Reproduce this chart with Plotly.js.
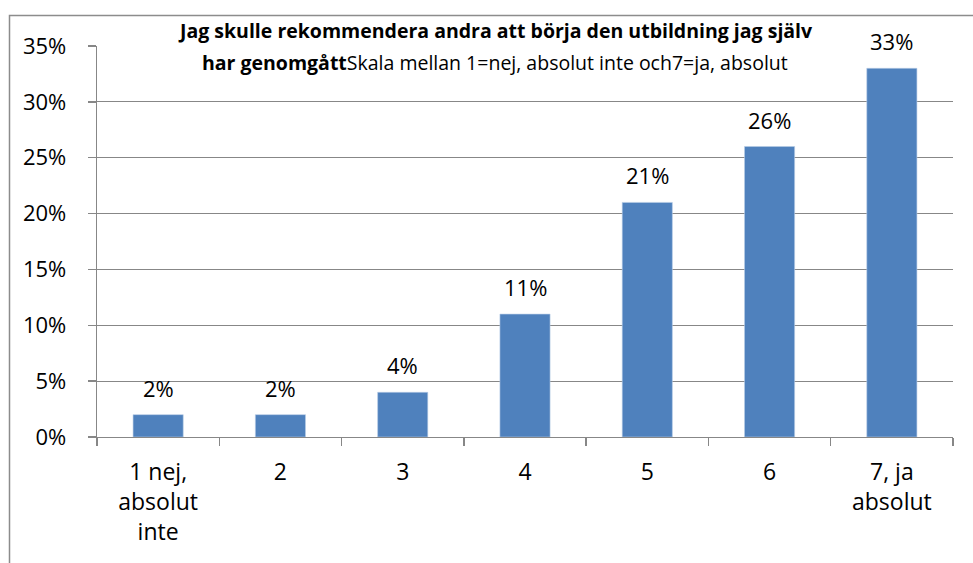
<!DOCTYPE html>
<html>
<head>
<meta charset="utf-8">
<script src="https://cdn.plot.ly/plotly-3.0.1.min.js"></script>
<style>html,body{margin:0;padding:0;background:#fff;}#chart{width:973px;height:563px;}</style>
</head>
<body>
<div id="chart"></div>
<script>
const categories = ['1 nej,<br>absolut<br>inte', '2', '3', '4', '5', '6', '7, ja<br>absolut'];
const values = [0.02, 0.02, 0.04, 0.11, 0.21, 0.26, 0.33];
const valueLabels = ['2%', '2%', '4%', '11%', '21%', '26%', '33%'];
const yTickVals = [0, 0.05, 0.10, 0.15, 0.20, 0.25, 0.30, 0.35];
const yTickText = ['0%', '5%', '10%', '15%', '20%', '25%', '30%', '35%'];
const titleLine1 = '<b>Jag skulle rekommendera andra att börja den utbildning jag själv</b>';
const titleLine2 = '<b>har genomgått</b>Skala mellan 1=nej, absolut inte och7=ja, absolut';

const FONT = 'Open Sans, Liberation Sans, sans-serif';
const gray = '#878787';

const trace = {
  type: 'bar',
  x: categories,
  y: values,
  marker: {color: '#4F81BD', line: {color: '#B9CDE5', width: 0.6}},
  hoverinfo: 'none'
};

const annotations = categories.map((c, i) => ({
  x: i, y: values[i], xref: 'x', yref: 'y',
  text: valueLabels[i], showarrow: false,
  yanchor: 'middle', yshift: 27,
  font: {family: FONT, size: 22, color: '#000'}
}));
annotations.push({
  xref: 'paper', yref: 'paper', x: (495 - 97) / 856, y: (437 - 31) / 391,
  xanchor: 'center', yanchor: 'middle', showarrow: false,
  text: titleLine1, font: {family: FONT, size: 19.5, color: '#000'}
});
annotations.push({
  xref: 'paper', yref: 'paper', x: (495 - 97) / 856, y: (437 - 62) / 391,
  xanchor: 'center', yanchor: 'middle', showarrow: false,
  text: titleLine2, font: {family: FONT, size: 19.5, color: '#000'}
});

const layout = {
  width: 973, height: 563,
  margin: {l: 97, r: 20, t: 46, b: 126, pad: 0},
  paper_bgcolor: '#fff', plot_bgcolor: '#fff',
  showlegend: false,
  bargap: 0.59,
  font: {family: FONT, size: 22, color: '#000'},
  xaxis: {
    type: 'category',
    showgrid: false,
    showline: true, linecolor: gray, linewidth: 1.3,
    ticks: 'outside', ticklen: 8, tickcolor: gray, tickwidth: 1.3,
    tickson: 'boundaries',
    tickfont: {family: FONT, size: 23, color: '#000'},
    ticklabelstandoff: 14,
    zeroline: false
  },
  yaxis: {
    range: [0, 0.35],
    tickvals: yTickVals, ticktext: yTickText,
    showgrid: true, gridcolor: gray, gridwidth: 1.1,
    showline: true, linecolor: gray, linewidth: 1.3,
    ticks: 'outside', ticklen: 8, tickcolor: gray, tickwidth: 1.3,
    tickfont: {family: FONT, size: 22, color: '#000'},
    ticklabelstandoff: 17,
    zeroline: false
  },
  annotations: annotations,
  shapes: [{
    type: 'rect', xref: 'paper', yref: 'paper',
    x0: (9.5 - 97) / 856, x1: (985 - 97) / 856,
    y0: (437 - 580) / 391, y1: (437 - 15.5) / 391,
    line: {color: '#8c8c8c', width: 1.5}, fillcolor: 'rgba(0,0,0,0)', layer: 'below'
  }]
};

Plotly.newPlot('chart', [trace], layout, {displayModeBar: false, staticPlot: true});
</script>
</body>
</html>
